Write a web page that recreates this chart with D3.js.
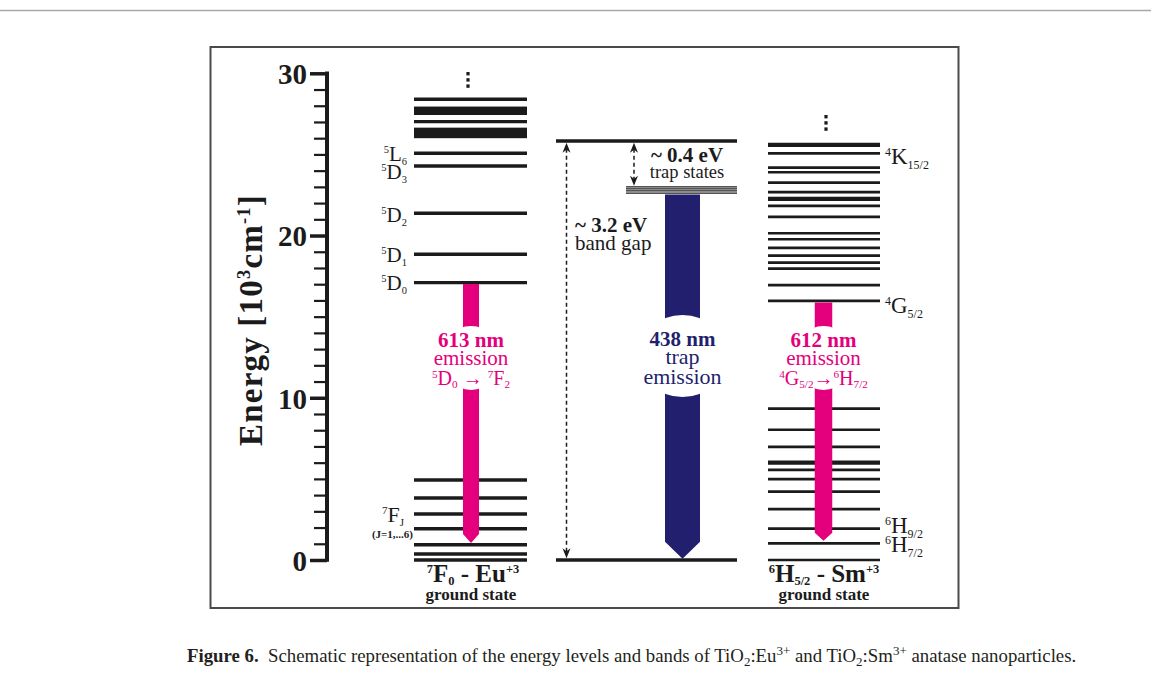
<!DOCTYPE html>
<html><head><meta charset="utf-8">
<script src="https://cdn.jsdelivr.net/npm/d3@7"></script>
<style>
html,body{margin:0;padding:0;background:#fff;}
svg{display:block;font-family:"Liberation Serif","DejaVu Serif",serif;}
svg text{font-family:"Liberation Serif","DejaVu Serif",serif;}
</style></head>
<body>
<svg id="chart" width="1151" height="686"></svg>
<script>
// ---------------- DATA (energies in 10^3 cm^-1) ----------------
const axisTicks = d3.range(0, 31);           // minor every 1, labelled every 10
const axisTickLabels = [0, 10, 20, 30];

const euLevels = [0, 0.37, 0.94, 1.93, 2.84, 3.82, 4.93, 17.10, 18.85, 21.37, 24.29, 25.07, 27.02, 28.40];
const euBands = [[26.0, 26.65], [27.43, 27.95]];
const euLabelNames = [
  [["5","sup"],["L"],["6","sub"]],
  [["5","sup"],["D"],["3","sub"]],
  [["5","sup"],["D"],["2","sub"]],
  [["5","sup"],["D"],["1","sub"]],
  [["5","sup"],["D"],["0","sub"]]
];
const euLabelEnergies = [25.07, 24.29, 21.37, 18.85, 17.10];

const gapLevels = [0, 25.83];
const trapLevels = [23.0, 22.87, 22.75, 22.62];

const smLevels = [0, 1.03, 1.93, 3.14, 4.21, 4.99, 5.55, 5.95, 6.05, 6.97, 8.03, 9.33,
  15.97, 16.94, 17.96, 18.33, 18.76, 19.24, 19.77, 20.14, 21.15, 21.83, 22.21, 22.31,
  22.67, 23.26, 23.90, 24.19, 25.07, 25.54, 25.64];
const smLabelNames = [
  [["4","sup"],["K"],["15/2","sub"]],
  [["4","sup"],["G"],["5/2","sub"]],
  [["6","sup"],["H"],["9/2","sub"]],
  [["6","sup"],["H"],["7/2","sub"]]
];
const smLabelEnergies = [25.07, 15.97, 1.93, 1.03];

const euEmission = {from: 17.10, to: 1.05, text: [[["613 nm"]], [["emission"]], [["5","sup"],["D"],["0","sub"],[" \u2192 "],["7","sup"],["F"],["2","sub"]]]};
const trapEmission = {from: 22.62, to: 0.08, text: [[["438 nm"]], [["trap"]], [["emission"]]]};
const smEmission = {from: 15.97, to: 1.19, text: [[["612 nm"]], [["emission"]], [["4","sup"],["G"],["5/2","sub"],["\u2192"],["6","sup"],["H"],["7/2","sub"]]]};

const bandGap = {low: 0, high: 25.83, label: ["~ 3.2 eV", "band gap"]};
const trapDepth = {low: 22.95, high: 25.83, label: ["~ 0.4 eV", "trap states"]};

// ---------------- LAYOUT ----------------
const svg = d3.select("#chart");
const PINK = "#e4007c", NAVY = "#221f6e", INK = "#1b1b1b";
const y = d3.scaleLinear().domain([0, 30]).range([560, 73.3]);
const col = {eu: [414, 527], gap: [556, 737], sm: [768, 880]};

// page rule and frame
svg.append("line").attr("x1", 0).attr("x2", 1151).attr("y1", 10.5).attr("y2", 10.5)
  .attr("stroke", "#a8a8a8").attr("stroke-width", 1.5);
svg.append("rect").attr("x", 210.5).attr("y", 47).attr("width", 748).attr("height", 561)
  .attr("fill", "none").attr("stroke", "#4a4a4a").attr("stroke-width", 2);

// rich text helper
function rich(parent, x, yy, parts, o) {
  const size = o.size;
  const supK = o.supK || 0.36, subK = o.subK || 0.2, small = o.small || 0.56;
  const t = parent.append("text").attr("x", x).attr("y", yy)
    .attr("text-anchor", o.anchor || "start")
    .attr("fill", o.fill || INK)
    .style("font-size", size + "px")
    .style("font-weight", o.weight || "normal");
  if (o.spacing) t.style("letter-spacing", o.spacing + "px");
  let cur = 0;
  parts.forEach(p => {
    const s = p[0], type = p[1];
    const target = type === "sup" ? -supK * size : type === "sub" ? subK * size : 0;
    const sp = t.append("tspan").text(s).attr("dy", target - cur);
    cur = target;
    if (type) sp.style("font-size", (small * size) + "px");
  });
  return t;
}

// ---------------- AXIS ----------------
const axis = d3.axisLeft(y).tickValues(axisTicks).tickSizeOuter(0)
  .tickFormat(d => axisTickLabels.includes(d) ? d : "");
const ag = svg.append("g").attr("transform", "translate(327,0)").call(axis)
  .attr("font-family", null).attr("font-size", null);
ag.select(".domain").attr("stroke", INK).attr("stroke-width", 4)
  .attr("d", `M0,${y(0) + 1.8}V${y(30) - 1.8}`);
ag.selectAll(".tick line").attr("stroke", INK)
  .attr("x2", d => axisTickLabels.includes(d) ? -17 : -13)
  .attr("stroke-width", d => axisTickLabels.includes(d) ? 3.5 : 2.2);
ag.selectAll(".tick text").attr("x", -20).attr("dy", "0.36em")
  .attr("fill", INK).style("font-size", "29px").style("font-weight", "bold");

// axis title
const title = svg.append("g").attr("transform", "translate(262,320) rotate(-90)");
rich(title, 0, 0, [["Energy [10"], ["3", "sup"], ["cm"], ["-1", "sup"], ["]"]],
  {size: 33, anchor: "middle", weight: "bold", spacing: 1.2});

// ---------------- LEVELS ----------------
function levels(xr, data, sw) {
  svg.append("g").selectAll("line").data(data).join("line")
    .attr("x1", xr[0]).attr("x2", xr[1])
    .attr("y1", d => y(d)).attr("y2", d => y(d))
    .attr("stroke", INK).attr("stroke-width", sw);
}
levels(col.eu, euLevels, 3.4);
svg.append("g").selectAll("rect").data(euBands).join("rect")
  .attr("x", col.eu[0]).attr("width", col.eu[1] - col.eu[0])
  .attr("y", d => y(d[1])).attr("height", d => y(d[0]) - y(d[1]))
  .attr("fill", INK);
levels(col.sm, smLevels, 2.7);
levels(col.gap, gapLevels, 3.5);
levels([626, col.gap[1]], trapLevels, 1.3);

// vertical ellipsis dots
function dots(cx, y0) {
  svg.append("g").selectAll("rect").data([0, 1, 2]).join("rect")
    .attr("x", cx - 1.6).attr("y", d => y0 + d * 6.2).attr("width", 3.2).attr("height", 3.4)
    .attr("fill", INK);
}
dots(468, 72);
dots(826, 115);

// ---------------- EMISSION ARROWS ----------------
function emission(cx, w, head, e, color, gap, sizes, weights) {
  const x0 = cx - w / 2, x1 = cx + w / 2;
  const top = y(e.from) + 1.5, tip = y(e.to), sh = tip - head;
  svg.append("path").attr("fill", color)
    .attr("d", `M${x0},${top}H${x1}V${sh}L${cx},${tip}L${x0},${sh}Z`);
  svg.append("ellipse").attr("cx", cx).attr("cy", gap.cy).attr("rx", gap.rx).attr("ry", gap.ry)
    .attr("fill", "#fff");
  e.text.forEach((parts, i) => {
    rich(svg, cx, gap.base[i], parts, {size: sizes[i], anchor: "middle",
      weight: weights[i], fill: color, subK: 0.17});
  });
}
emission(471, 16, 9, euEmission, PINK, {cy: 358, rx: 30, ry: 32, base: [347, 365, 385]},
  [21, 21, 20], ["bold", "normal", "normal"]);
emission(823.5, 17.5, 8, smEmission, PINK, {cy: 358, rx: 30, ry: 32, base: [347, 365, 385]},
  [21, 21, 20], ["bold", "normal", "normal"]);
emission(682.5, 35, 17, trapEmission, NAVY, {cy: 356, rx: 44, ry: 41, base: [346, 364, 384]},
  [21, 22, 22], ["bold", "normal", "normal"]);

// ---------------- DASHED DOUBLE ARROWS ----------------
function dashArrow(x, lowE, highE) {
  const yt = y(highE) + 1.8, yb = y(lowE) - 1.8;
  svg.append("line").attr("x1", x).attr("x2", x).attr("y1", yt + 6).attr("y2", yb - 6)
    .attr("stroke", INK).attr("stroke-width", 1.5).attr("stroke-dasharray", "4,3");
  svg.append("path").attr("fill", INK)
    .attr("d", `M${x},${yt}L${x + 4},${yt + 10}L${x},${yt + 7}L${x - 4},${yt + 10}Z`);
  svg.append("path").attr("fill", INK)
    .attr("d", `M${x},${yb}L${x + 4},${yb - 10}L${x},${yb - 7}L${x - 4},${yb - 10}Z`);
}
dashArrow(566.5, bandGap.low, bandGap.high);
dashArrow(634, trapDepth.low, trapDepth.high);

svg.append("text").attr("x", 575).attr("y", 232).attr("fill", INK)
  .style("font-size", "21px").style("font-weight", "bold").text(bandGap.label[0]);
svg.append("text").attr("x", 575).attr("y", 250).attr("fill", INK)
  .style("font-size", "21px").text(bandGap.label[1]);
svg.append("text").attr("x", 687).attr("y", 162).attr("text-anchor", "middle").attr("fill", INK)
  .style("font-size", "21px").style("font-weight", "bold").text(trapDepth.label[0]);
svg.append("text").attr("x", 687).attr("y", 178).attr("text-anchor", "middle").attr("fill", INK)
  .style("font-size", "18.5px").text(trapDepth.label[1]);

// ---------------- LEVEL LABELS ----------------
const euLabelBase = [161, 179, 222, 262, 290];
euLabelNames.forEach((p, i) => {
  rich(svg, 407, euLabelBase[i], p, {size: 21, anchor: "end", small: 0.5});
});
rich(svg, 404, 522, [["7", "sup"], ["F"], ["J", "sub"]], {size: 22, anchor: "end", small: 0.5});
svg.append("text").attr("x", 413).attr("y", 538).attr("text-anchor", "end").attr("fill", INK)
  .style("font-size", "11px").style("font-weight", "bold").text("(J=1,...6)");

const smLabelBase = [164, 313, 533, 552];
smLabelNames.forEach((p, i) => {
  rich(svg, 885, smLabelBase[i], p, {size: 23, anchor: "start", small: 0.52});
});

// ground state labels
rich(svg, 473, 582, [["7", "sup"], ["F"], ["0", "sub"], [" - Eu"], ["+3", "sup"]],
  {size: 25, anchor: "middle", weight: "bold", subK: 0.12, small: 0.5});
svg.append("text").attr("x", 471).attr("y", 600).attr("text-anchor", "middle").attr("fill", INK)
  .style("font-size", "17px").style("font-weight", "bold").text("ground state");
rich(svg, 824, 582, [["6", "sup"], ["H"], ["5/2", "sub"], [" - Sm"], ["+3", "sup"]],
  {size: 25, anchor: "middle", weight: "bold", subK: 0.12, small: 0.5});
svg.append("text").attr("x", 824).attr("y", 600).attr("text-anchor", "middle").attr("fill", INK)
  .style("font-size", "17px").style("font-weight", "bold").text("ground state");

// ---------------- CAPTION ----------------
const cap = svg.append("text").attr("x", 187).attr("y", 662).attr("fill", "#231f20")
  .style("font-size", "18.8px");
cap.append("tspan").style("font-weight", "bold").text("Figure 6.");
const capParts = [["\u2002Schematic representation of the energy levels and bands of TiO"], ["2", "sub"], [":Eu"], ["3+", "sup"],
  [" and TiO"], ["2", "sub"], [":Sm"], ["3+", "sup"], [" anatase nanoparticles."]];
let curC = 0;
capParts.forEach(p => {
  const target = p[1] === "sup" ? -7 : p[1] === "sub" ? 4 : 0;
  const sp = cap.append("tspan").text(p[0]).attr("dy", target - curC);
  curC = target;
  if (p[1]) sp.style("font-size", "13px");
});
</script>
</body></html>
